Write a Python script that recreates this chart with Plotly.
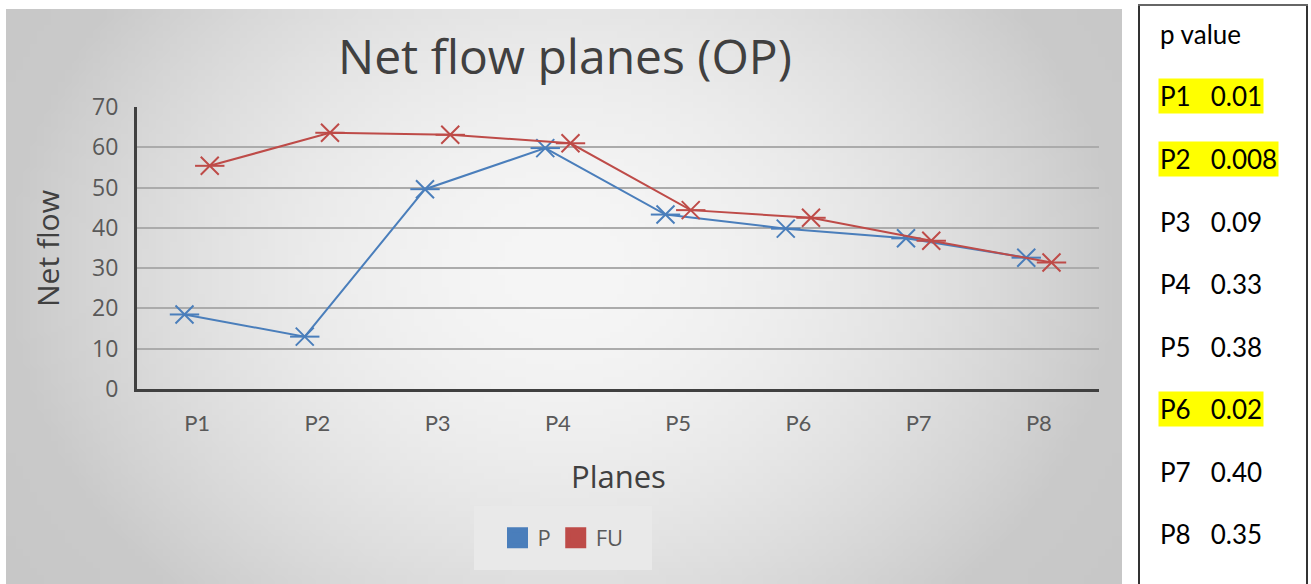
import base64
import struct
import zlib

import numpy as np
import plotly.graph_objects as go

# ---- data ----
planes = ["P1", "P2", "P3", "P4", "P5", "P6", "P7", "P8"]
net_flow_p = [18.5, 13.0, 49.6, 59.8, 43.3, 39.8, 37.4, 32.6]
net_flow_fu = [55.4, 63.6, 63.1, 61.0, 44.4, 42.5, 36.8, 31.4]
p_values = ["0.01", "0.008", "0.09", "0.33", "0.38", "0.02", "0.40", "0.35"]
y_ticks = [0, 10, 20, 30, 40, 50, 60, 70]

BLUE = "#4a7ebb"
RED = "#be4b48"
TEXT = "#595959"
W, H = 1311, 584


def px_x(x):
    return x / W


def px_y(y):
    return 1 - y / H


def gray_png(field):
    """Encode a 2-D uint8 array as a grayscale PNG."""
    h, w = field.shape
    raw = b"".join(b"\x00" + bytes(row) for row in field)

    def chunk(tag, data):
        body = tag + data
        return struct.pack(">I", len(data)) + body + struct.pack(">I", zlib.crc32(body) & 0xFFFFFFFF)

    ihdr = struct.pack(">IIBBBBB", w, h, 8, 0, 0, 0, 0)
    return (b"\x89PNG\r\n\x1a\n" + chunk(b"IHDR", ihdr)
            + chunk(b"IDAT", zlib.compress(raw, 9)) + chunk(b"IEND", b""))


# soft radial background of the chart panel
gw, gh = 160, 90
gx, gy = np.meshgrid(np.linspace(0, 1, gw), np.linspace(0, 1, gh))
d = np.sqrt(((gx - 0.5) / 0.5) ** 2 + ((gy - 0.45) / 0.8) ** 2)
shade = 246 - 44 * np.minimum(d, 1) ** 1.8 - 12 * np.maximum(d - 1, 0)
bg_uri = "data:image/png;base64," + base64.b64encode(
    gray_png(np.clip(shade, 0, 255).astype(np.uint8))).decode()

fig = go.Figure()

for name, values, color in [("P", net_flow_p, BLUE), ("FU", net_flow_fu, RED)]:
    fig.add_trace(go.Scatter(
        x=planes, y=values, mode="lines+markers", name=name,
        offsetgroup=name, showlegend=False, hoverinfo="skip",
        line=dict(color=color, width=2),
        marker=dict(symbol="x-thin-open", size=18, color=color,
                    line=dict(color=color, width=2)),
    ))
    fig.add_trace(go.Scatter(
        x=planes, y=values, mode="markers", name=name,
        offsetgroup=name, showlegend=False,
        marker=dict(symbol="line-ew-open", size=21, color=color,
                    line=dict(color=color, width=2)),
    ))
    # legend entry drawn as a filled square
    fig.add_trace(go.Scatter(
        x=[None], y=[None], mode="markers", name=name, offsetgroup=name,
        marker=dict(symbol="square", size=16, color=color,
                    line=dict(color=color, width=5)),
    ))

annotations = [
    dict(text="Net flow planes (OP)", x=px_x(565), y=px_y(56),
         font=dict(family="Open Sans", size=48, color="#404040")),
    dict(text="Net flow", x=px_x(47), y=px_y(249), textangle=-90,
         font=dict(family="Open Sans", size=30, color="#404040")),
    dict(text="Planes", x=px_x(618), y=px_y(476),
         font=dict(family="Open Sans", size=31, color="#404040")),
    dict(text="p value", x=px_x(1158), y=px_y(34), xanchor="left",
         font=dict(family="Lato", size=26, color="black")),
]
for i, (plane, pv) in enumerate(zip(planes, p_values)):
    significant = float(pv) < 0.05
    annotations.append(dict(
        text=f"{plane}&nbsp;&nbsp;&nbsp;{pv}", x=px_x(1158), y=px_y(96.5 + 62.5 * i),
        xanchor="left", borderpad=1,
        bgcolor="#ffff00" if significant else "rgba(0,0,0,0)",
        font=dict(family="Lato", size=26, color="black"),
    ))
for a in annotations:
    a.setdefault("xref", "paper")
    a.setdefault("yref", "paper")
    a.setdefault("showarrow", False)
    a.setdefault("xanchor", "center")
    a.setdefault("yanchor", "middle")

shapes = [
    # legend panel
    dict(type="rect", xref="paper", yref="paper", layer="below",
         x0=px_x(474), x1=px_x(652), y0=px_y(570), y1=px_y(506),
         fillcolor="#e9e9e9", line=dict(width=0)),
    # frame of the p-value panel
    dict(type="line", xref="paper", yref="paper", x0=px_x(1139), x1=px_x(1139),
         y0=px_y(5), y1=0, line=dict(color="#333333", width=2)),
    dict(type="line", xref="paper", yref="paper", x0=px_x(1307), x1=px_x(1307),
         y0=px_y(5), y1=0, line=dict(color="#333333", width=2)),
    dict(type="line", xref="paper", yref="paper", x0=px_x(1138), x1=px_x(1308),
         y0=px_y(5), y1=px_y(5), line=dict(color="#666666", width=2)),
]

fig.update_layout(
    template="none",
    width=W, height=H,
    margin=dict(l=0, r=0, t=0, b=0, autoexpand=False),
    paper_bgcolor="white",
    plot_bgcolor="rgba(0,0,0,0)",
    scattermode="group",
    scattergap=0.58,
    annotations=annotations,
    shapes=shapes,
    images=[dict(source=bg_uri, xref="paper", yref="paper",
                 x=px_x(6), y=px_y(9), sizex=1116 / W, sizey=575 / H,
                 xanchor="left", yanchor="top", sizing="stretch", layer="below")],
    legend=dict(orientation="h", x=px_x(563), y=px_y(538),
                xanchor="center", yanchor="middle",
                bgcolor="rgba(0,0,0,0)", borderwidth=0,
                font=dict(family="Open Sans", size=22, color=TEXT),
                itemwidth=30, tracegroupgap=0),
    xaxis=dict(
        domain=[px_x(137), px_x(1099)],
        type="category", categoryorder="array", categoryarray=planes,
        showgrid=False, zeroline=False, automargin=False,
        showline=True, linecolor="#404040", linewidth=3,
        ticks="", ticklabelstandoff=13,
        tickfont=dict(family="Lato", size=22, color=TEXT),
    ),
    yaxis=dict(
        domain=[px_y(389), px_y(107)],
        range=[0, 70], tickvals=y_ticks,
        showgrid=True, gridcolor="#ababab", gridwidth=1.5,
        zeroline=False, automargin=False,
        showline=True, linecolor="#404040", linewidth=3,
        ticks="", ticklabelstandoff=11,
        tickfont=dict(family="Open Sans", size=23, color=TEXT),
    ),
)

fig.write_html("out.html")
